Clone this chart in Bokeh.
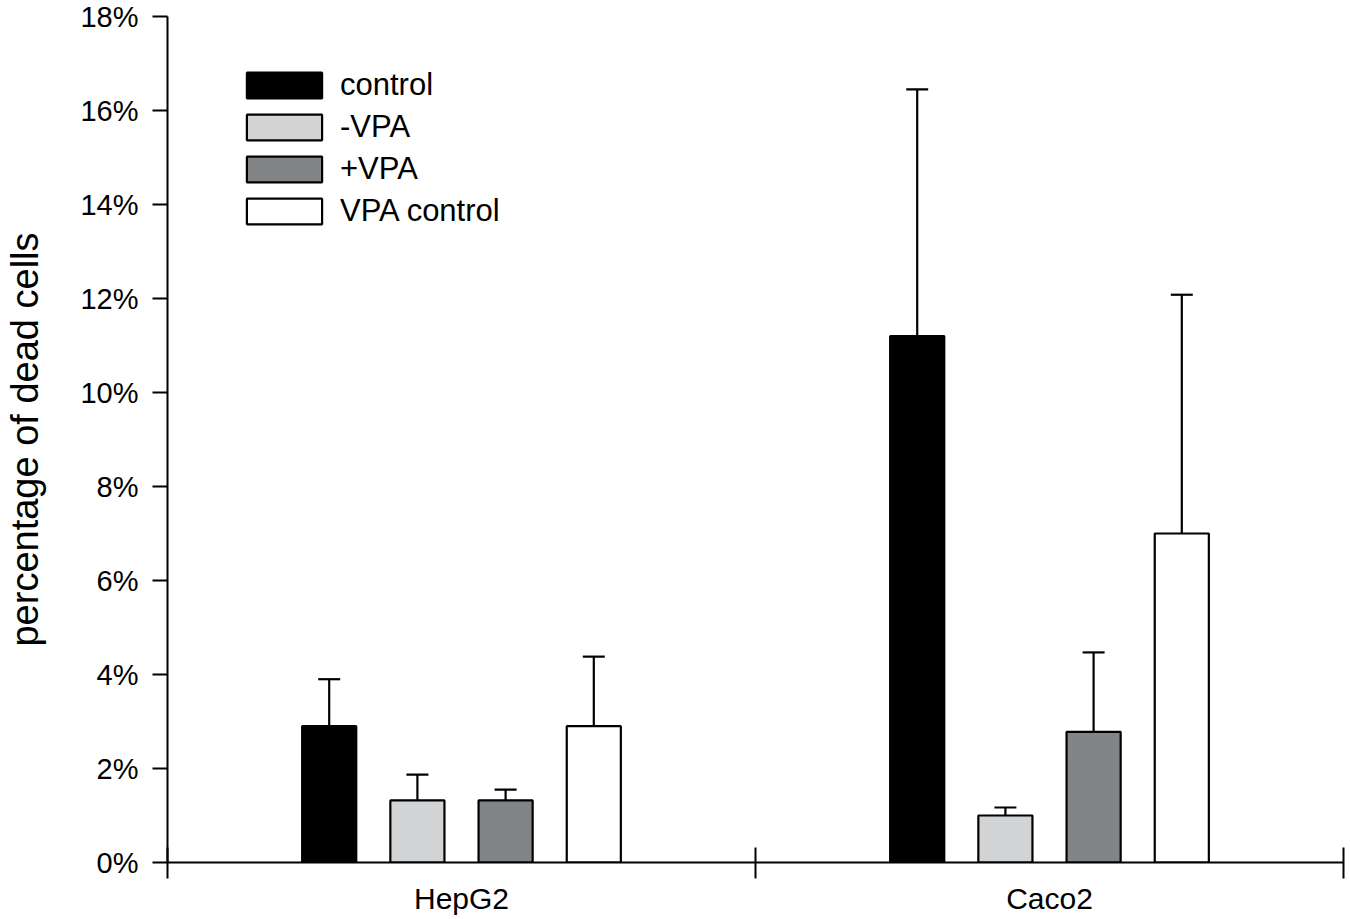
from bokeh.plotting import figure
from bokeh.models import (ColumnDataSource, Range1d, FixedTicker, PrintfTickFormatter,
                          Whisker, TeeHead, Legend, LegendItem)
from bokeh.transform import dodge
from bokeh.embed import file_html
from bokeh.resources import INLINE

categories = ["HepG2", "Caco2"]
series = ["control", "-VPA", "+VPA", "VPA control"]
control = [2.9, 11.2]
control_err = [3.9, 16.45]
minus_vpa = [1.32, 1.0]
minus_vpa_err = [1.87, 1.17]
plus_vpa = [1.32, 2.78]
plus_vpa_err = [1.55, 4.47]
vpa_control = [2.9, 7.0]
vpa_control_err = [4.38, 12.08]
y_ticks = [0, 2, 4, 6, 8, 10, 12, 14, 16, 18]

values = [control, minus_vpa, plus_vpa, vpa_control]
uppers = [control_err, minus_vpa_err, plus_vpa_err, vpa_control_err]
colors = ["#000000", "#d2d3d4", "#838485", "#ffffff"]
offsets = [-0.225, -0.075, 0.075, 0.225]

centers = [i + 0.5 for i in range(len(categories))]
bounds = [i for i in range(len(categories) + 1)]

FONT = "Liberation Sans"

p = figure(width=1346, height=918,
           x_range=Range1d(0, len(categories)), y_range=Range1d(0, 18),
           output_backend="svg", toolbar_location=None,
           min_border_left=167, min_border_right=3, min_border_top=16, min_border_bottom=56)
p.outline_line_color = None
p.xgrid.grid_line_color = None
p.ygrid.grid_line_color = None
p.background_fill_color = "white"
p.border_fill_color = "white"

items = []
for name, vals, ups, col, off in zip(series, values, uppers, colors, offsets):
    src = ColumnDataSource(dict(x=centers, top=vals, upper=ups))
    r = p.vbar(x=dodge("x", off, range=p.x_range), top="top", bottom=0, width=0.092,
               source=src, fill_color=col, line_color="black", line_width=2.2)
    w = Whisker(base=dodge("x", off, range=p.x_range), lower="top", upper="upper",
                source=src, dimension="height", line_color="black", line_width=2.2,
                upper_head=TeeHead(size=22, line_color="black", line_width=2.2),
                lower_head=None)
    p.add_layout(w)
    items.append(LegendItem(label=name, renderers=[r]))

legend = Legend(items=items, location=(70, 633), glyph_width=94, glyph_height=32,
                spacing=6, padding=0, margin=0, label_standoff=9,
                label_text_font=FONT, label_text_font_size="31px",
                label_text_color="black",
                border_line_color=None, background_fill_alpha=0)
p.add_layout(legend)

# x axis
xa = p.xaxis[0]
xa.ticker = FixedTicker(ticks=centers, minor_ticks=bounds)
xa.major_label_overrides = {c: n for c, n in zip(centers, categories)}
xa.major_tick_line_color = None
xa.major_tick_in = 0
xa.major_tick_out = 0
xa.minor_tick_in = 15
xa.minor_tick_out = 16
xa.minor_tick_line_width = 2
xa.minor_tick_line_color = "black"
xa.axis_line_width = 2
xa.axis_line_color = "black"
xa.major_label_text_font = FONT
xa.major_label_text_font_size = "30px"
xa.major_label_text_color = "black"
xa.major_label_standoff = 3

# y axis
ya = p.yaxis[0]
ya.ticker = FixedTicker(ticks=y_ticks, minor_ticks=[])
ya.formatter = PrintfTickFormatter(format="%d%%")
ya.major_tick_in = 0
ya.major_tick_out = 15
ya.major_tick_line_width = 2
ya.axis_line_width = 2
ya.axis_line_color = "black"
ya.major_label_text_font = FONT
ya.major_label_text_font_size = "29px"
ya.major_label_text_color = "black"
ya.major_label_standoff = 14
ya.axis_label = "percentage of dead cells"
ya.axis_label_text_font = FONT
ya.axis_label_text_font_size = "38px"
ya.axis_label_text_font_style = "normal"
ya.axis_label_text_color = "black"
ya.axis_label_standoff = 31

open("out.html", "w").write(file_html(p, INLINE))
